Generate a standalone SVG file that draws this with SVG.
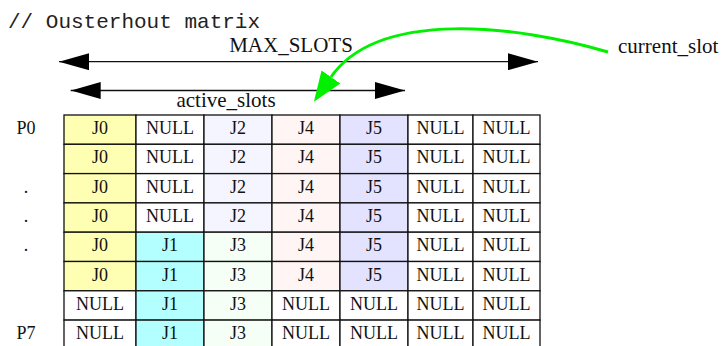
<svg xmlns="http://www.w3.org/2000/svg" width="722" height="346" viewBox="0 0 722 346">
  <style>
    .mono { font-family: "Liberation Mono", "DejaVu Sans Mono", monospace; font-size: 21px; fill: #222; }
    .lbl { font-family: "Liberation Serif", "Times New Roman", serif; font-size: 21px; fill: #111; }
    .cell rect { stroke: #111; stroke-width: 1.3; }
    .cell text, .row text { font-family: "Liberation Serif", "Times New Roman", serif; font-size: 18px; fill: #111; text-anchor: middle; }
    .j0 { fill: #ffffb3; }
    .j1 { fill: #b3ffff; }
    .j2 { fill: #f5f5ff; }
    .j3 { fill: #f5fff5; }
    .j4 { fill: #fff5f5; }
    .j5 { fill: #e3e3ff; }
    .nul { fill: #ffffff; }
    .dim { stroke: #111; stroke-width: 1.3; fill: none; marker-start: url(#ah); marker-end: url(#ah); }
    .ptr { stroke: #00f000; stroke-width: 3; fill: none; marker-end: url(#gh); }
  </style>
  <defs>
    <marker id="ah" markerUnits="userSpaceOnUse" viewBox="0 0 30 17" markerWidth="30" markerHeight="17" refX="30" refY="8.5" orient="auto-start-reverse">
      <path d="M0,0 L30,8.5 L0,17 Z" fill="#000"/>
    </marker>
    <marker id="gh" markerUnits="userSpaceOnUse" viewBox="0 0 30 23" markerWidth="30" markerHeight="23" refX="0" refY="11.5" orient="auto">
      <path d="M0,0 L30,11.5 L0,23 Z" fill="#00f000"/>
    </marker>
  </defs>

  <rect width="722" height="346" fill="#fff"/>

  <text class="mono" x="8" y="27.5">// Ousterhout matrix</text>

  <g id="label-max-slots"><text class="lbl" font-family="Liberation Serif, serif" x="291" y="52" text-anchor="middle">MAX_SLOTS</text></g>
  <g id="label-active-slots"><text class="lbl" font-family="Liberation Serif, serif" x="226" y="107" text-anchor="middle">active_slots</text></g>
  <g id="label-current-slot"><text class="lbl" font-family="Liberation Serif, serif" x="618" y="53">current_slot</text></g>

  <!-- row labels -->
  <g id="row-labels" class="row">
    <text x="26" y="134">P0</text>
    <text x="26" y="192.6">.</text>
    <text x="26" y="221.9">.</text>
    <text x="26" y="251.2">.</text>
    <text x="26" y="339.1">P7</text>
  </g>

  <!-- matrix: 8 processors x 7 slots -->
  <g id="matrix">
    <!-- row 1 -->
    <g id="c1-1" class="cell"><rect class="j0" x="64" y="115" width="72" height="29.3"/><text x="100" y="134">J0</text></g>
    <g id="c1-2" class="cell"><rect class="nul" x="136" y="115" width="68" height="29.3"/><text x="170" y="134">NULL</text></g>
    <g id="c1-3" class="cell"><rect class="j2" x="204" y="115" width="68" height="29.3"/><text x="238" y="134">J2</text></g>
    <g id="c1-4" class="cell"><rect class="j4" x="272" y="115" width="68" height="29.3"/><text x="306" y="134">J4</text></g>
    <g id="c1-5" class="cell"><rect class="j5" x="340" y="115" width="68" height="29.3"/><text x="374" y="134">J5</text></g>
    <g id="c1-6" class="cell"><rect class="nul" x="408" y="115" width="65" height="29.3"/><text x="440.5" y="134">NULL</text></g>
    <g id="c1-7" class="cell"><rect class="nul" x="473" y="115" width="67" height="29.3"/><text x="506.5" y="134">NULL</text></g>
    <!-- row 2 -->
    <g id="c2-1" class="cell"><rect class="j0" x="64" y="144.3" width="72" height="29.3"/><text x="100" y="163.3">J0</text></g>
    <g id="c2-2" class="cell"><rect class="nul" x="136" y="144.3" width="68" height="29.3"/><text x="170" y="163.3">NULL</text></g>
    <g id="c2-3" class="cell"><rect class="j2" x="204" y="144.3" width="68" height="29.3"/><text x="238" y="163.3">J2</text></g>
    <g id="c2-4" class="cell"><rect class="j4" x="272" y="144.3" width="68" height="29.3"/><text x="306" y="163.3">J4</text></g>
    <g id="c2-5" class="cell"><rect class="j5" x="340" y="144.3" width="68" height="29.3"/><text x="374" y="163.3">J5</text></g>
    <g id="c2-6" class="cell"><rect class="nul" x="408" y="144.3" width="65" height="29.3"/><text x="440.5" y="163.3">NULL</text></g>
    <g id="c2-7" class="cell"><rect class="nul" x="473" y="144.3" width="67" height="29.3"/><text x="506.5" y="163.3">NULL</text></g>
    <!-- row 3 -->
    <g id="c3-1" class="cell"><rect class="j0" x="64" y="173.6" width="72" height="29.3"/><text x="100" y="192.6">J0</text></g>
    <g id="c3-2" class="cell"><rect class="nul" x="136" y="173.6" width="68" height="29.3"/><text x="170" y="192.6">NULL</text></g>
    <g id="c3-3" class="cell"><rect class="j2" x="204" y="173.6" width="68" height="29.3"/><text x="238" y="192.6">J2</text></g>
    <g id="c3-4" class="cell"><rect class="j4" x="272" y="173.6" width="68" height="29.3"/><text x="306" y="192.6">J4</text></g>
    <g id="c3-5" class="cell"><rect class="j5" x="340" y="173.6" width="68" height="29.3"/><text x="374" y="192.6">J5</text></g>
    <g id="c3-6" class="cell"><rect class="nul" x="408" y="173.6" width="65" height="29.3"/><text x="440.5" y="192.6">NULL</text></g>
    <g id="c3-7" class="cell"><rect class="nul" x="473" y="173.6" width="67" height="29.3"/><text x="506.5" y="192.6">NULL</text></g>
    <!-- row 4 -->
    <g id="c4-1" class="cell"><rect class="j0" x="64" y="202.9" width="72" height="29.3"/><text x="100" y="221.9">J0</text></g>
    <g id="c4-2" class="cell"><rect class="nul" x="136" y="202.9" width="68" height="29.3"/><text x="170" y="221.9">NULL</text></g>
    <g id="c4-3" class="cell"><rect class="j2" x="204" y="202.9" width="68" height="29.3"/><text x="238" y="221.9">J2</text></g>
    <g id="c4-4" class="cell"><rect class="j4" x="272" y="202.9" width="68" height="29.3"/><text x="306" y="221.9">J4</text></g>
    <g id="c4-5" class="cell"><rect class="j5" x="340" y="202.9" width="68" height="29.3"/><text x="374" y="221.9">J5</text></g>
    <g id="c4-6" class="cell"><rect class="nul" x="408" y="202.9" width="65" height="29.3"/><text x="440.5" y="221.9">NULL</text></g>
    <g id="c4-7" class="cell"><rect class="nul" x="473" y="202.9" width="67" height="29.3"/><text x="506.5" y="221.9">NULL</text></g>
    <!-- row 5 -->
    <g id="c5-1" class="cell"><rect class="j0" x="64" y="232.2" width="72" height="29.3"/><text x="100" y="251.2">J0</text></g>
    <g id="c5-2" class="cell"><rect class="j1" x="136" y="232.2" width="68" height="29.3"/><text x="170" y="251.2">J1</text></g>
    <g id="c5-3" class="cell"><rect class="j3" x="204" y="232.2" width="68" height="29.3"/><text x="238" y="251.2">J3</text></g>
    <g id="c5-4" class="cell"><rect class="j4" x="272" y="232.2" width="68" height="29.3"/><text x="306" y="251.2">J4</text></g>
    <g id="c5-5" class="cell"><rect class="j5" x="340" y="232.2" width="68" height="29.3"/><text x="374" y="251.2">J5</text></g>
    <g id="c5-6" class="cell"><rect class="nul" x="408" y="232.2" width="65" height="29.3"/><text x="440.5" y="251.2">NULL</text></g>
    <g id="c5-7" class="cell"><rect class="nul" x="473" y="232.2" width="67" height="29.3"/><text x="506.5" y="251.2">NULL</text></g>
    <!-- row 6 -->
    <g id="c6-1" class="cell"><rect class="j0" x="64" y="261.5" width="72" height="29.3"/><text x="100" y="280.5">J0</text></g>
    <g id="c6-2" class="cell"><rect class="j1" x="136" y="261.5" width="68" height="29.3"/><text x="170" y="280.5">J1</text></g>
    <g id="c6-3" class="cell"><rect class="j3" x="204" y="261.5" width="68" height="29.3"/><text x="238" y="280.5">J3</text></g>
    <g id="c6-4" class="cell"><rect class="j4" x="272" y="261.5" width="68" height="29.3"/><text x="306" y="280.5">J4</text></g>
    <g id="c6-5" class="cell"><rect class="j5" x="340" y="261.5" width="68" height="29.3"/><text x="374" y="280.5">J5</text></g>
    <g id="c6-6" class="cell"><rect class="nul" x="408" y="261.5" width="65" height="29.3"/><text x="440.5" y="280.5">NULL</text></g>
    <g id="c6-7" class="cell"><rect class="nul" x="473" y="261.5" width="67" height="29.3"/><text x="506.5" y="280.5">NULL</text></g>
    <!-- row 7 -->
    <g id="c7-1" class="cell"><rect class="nul" x="64" y="290.8" width="72" height="29.3"/><text x="100" y="309.8">NULL</text></g>
    <g id="c7-2" class="cell"><rect class="j1" x="136" y="290.8" width="68" height="29.3"/><text x="170" y="309.8">J1</text></g>
    <g id="c7-3" class="cell"><rect class="j3" x="204" y="290.8" width="68" height="29.3"/><text x="238" y="309.8">J3</text></g>
    <g id="c7-4" class="cell"><rect class="nul" x="272" y="290.8" width="68" height="29.3"/><text x="306" y="309.8">NULL</text></g>
    <g id="c7-5" class="cell"><rect class="nul" x="340" y="290.8" width="68" height="29.3"/><text x="374" y="309.8">NULL</text></g>
    <g id="c7-6" class="cell"><rect class="nul" x="408" y="290.8" width="65" height="29.3"/><text x="440.5" y="309.8">NULL</text></g>
    <g id="c7-7" class="cell"><rect class="nul" x="473" y="290.8" width="67" height="29.3"/><text x="506.5" y="309.8">NULL</text></g>
    <!-- row 8 -->
    <g id="c8-1" class="cell"><rect class="nul" x="64" y="320.1" width="72" height="29.3"/><text x="100" y="339.1">NULL</text></g>
    <g id="c8-2" class="cell"><rect class="j1" x="136" y="320.1" width="68" height="29.3"/><text x="170" y="339.1">J1</text></g>
    <g id="c8-3" class="cell"><rect class="j3" x="204" y="320.1" width="68" height="29.3"/><text x="238" y="339.1">J3</text></g>
    <g id="c8-4" class="cell"><rect class="nul" x="272" y="320.1" width="68" height="29.3"/><text x="306" y="339.1">NULL</text></g>
    <g id="c8-5" class="cell"><rect class="nul" x="340" y="320.1" width="68" height="29.3"/><text x="374" y="339.1">NULL</text></g>
    <g id="c8-6" class="cell"><rect class="nul" x="408" y="320.1" width="65" height="29.3"/><text x="440.5" y="339.1">NULL</text></g>
    <g id="c8-7" class="cell"><rect class="nul" x="473" y="320.1" width="67" height="29.3"/><text x="506.5" y="339.1">NULL</text></g>
  </g>

  <!-- dimension arrows and the current-slot pointer -->
  <g id="connectors">
    <line id="max-slots" class="dim" x1="59" y1="61.7" x2="538" y2="61.7"/>
    <line id="active-slots" class="dim" x1="70.7" y1="90.5" x2="405" y2="90.5"/>
    <path id="current-slot" class="ptr" d="M608,52 C520,26 379,8 331,77"/>
  </g>
</svg>
